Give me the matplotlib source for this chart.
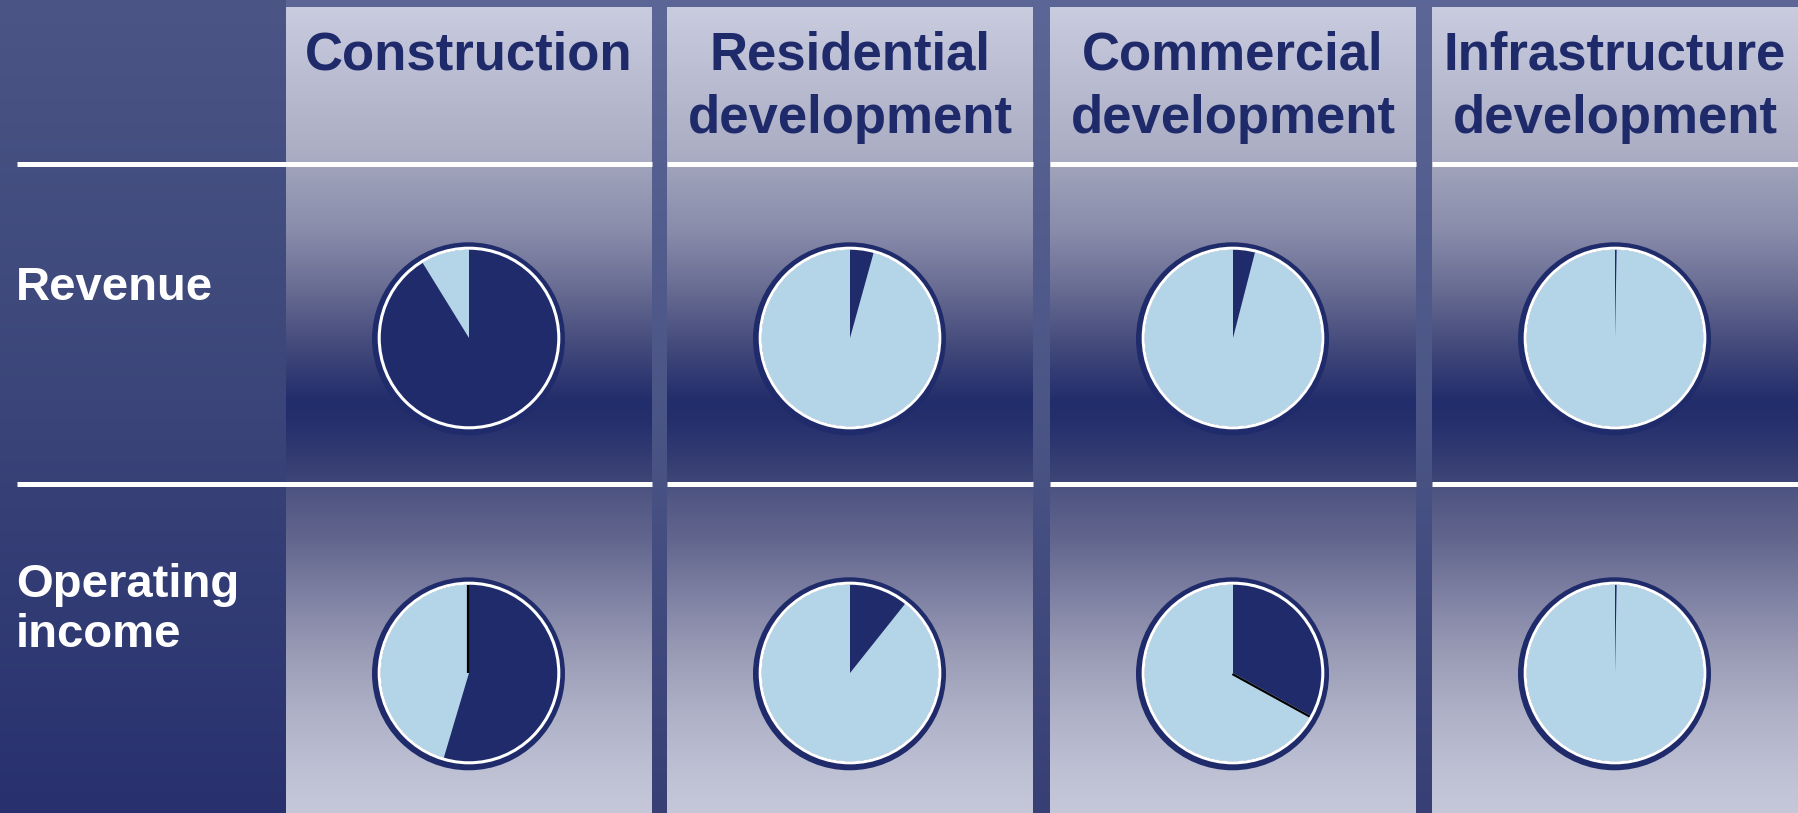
import numpy as np
import matplotlib
matplotlib.use('Agg')
import matplotlib.pyplot as plt
from matplotlib.colors import to_rgb
from matplotlib.patches import Circle

# canvas size in pixels (1 data unit = 1 px)
W, H = 1798, 813

segments = ["Construction", "Residential\ndevelopment",
            "Commercial\ndevelopment", "Infrastructure\ndevelopment"]
row_labels = ["Revenue", "Operating\nincome"]

# share of each segment (%)
revenue_share = [91.2, 4.3, 4.0, 0.3]
op_income_share = [54.6, 10.7, 33.0, 0.3]

DARK = '#1f2b6a'
LIGHT = '#b4d4e7'
TEXT_NAVY = '#1f2a6b'

# layout (pixels from top-left)
col_left = [286, 667, 1050, 1432]
col_width = 366
panel_top = 8
row_lines = [164, 484]
pie_y = [338, 673]
pie_r = 88.5


def vgrad(stops, y0, y1):
    ys = np.arange(y0, y1) + 0.5
    pos = [s[0] for s in stops]
    cols = np.array([to_rgb(s[1]) for s in stops])
    img = np.stack([np.interp(ys, pos, cols[:, k]) for k in range(3)], axis=-1)
    return img[:, None, :]


def put_grad(ax, stops, x0, x1, y0, y1):
    ax.imshow(vgrad(stops, y0, y1), extent=(x0, x1, H - y1, H - y0),
              aspect='auto', interpolation='bilinear', zorder=0)


bg_stops = [(0, '#5c6797'), (400, '#4c5686'), (813, '#373f75')]
left_stops = [(0, '#4b5686'), (400, '#3b4579'), (813, '#28316e')]
panel_stops = [(8, '#c9cbdf'), (164, '#a9abc2'), (166, '#a0a3bb'),
               (229, '#8a8dab'), (287, '#6a6e94'), (344, '#454b7c'),
               (401, '#222d6b'), (420, '#242f6c'), (459, '#343c72'),
               (482, '#3e4577'), (487, '#4d5381'), (539, '#62668e'),
               (596, '#7e81a2'), (654, '#9a9cb6'), (711, '#aeb0c7'),
               (768, '#bdc0d3'), (813, '#c6c8da')]

fig = plt.figure(figsize=(W / 100, H / 100), dpi=100)
ax = fig.add_axes([0, 0, 1, 1])

# backgrounds
put_grad(ax, bg_stops, 0, W, 0, H)
put_grad(ax, left_stops, 0, col_left[0], 0, H)
for x0 in col_left:
    put_grad(ax, panel_stops, x0, x0 + col_width, panel_top, H)

# white row dividers (broken at the gaps between columns)
for yl in row_lines:
    spans = [(17, col_left[0] + col_width)] + [(x0, x0 + col_width) for x0 in col_left[1:]]
    for a, b in spans:
        ax.plot([a, min(b, W)], [H - yl, H - yl], color='white', lw=3.6,
                solid_capstyle='butt', zorder=2)

# column headers
for i, name in enumerate(segments):
    cx = col_left[i] + col_width / 2
    for j, line in enumerate(name.split('\n')):
        ax.text(cx, H - (70 + 63 * j), line, ha='center', va='baseline',
                fontsize=38, fontweight='bold', color=TEXT_NAVY,
                family='Liberation Sans', zorder=3)

# row labels
label_base = [[300], [597, 647]]
for i, name in enumerate(row_labels):
    for j, line in enumerate(name.split('\n')):
        ax.text(16, H - label_base[i][j], line, ha='left', va='baseline',
                fontsize=34, fontweight='bold', color='white',
                family='Liberation Sans', zorder=3)

# pies; some dark slices have a thin black shadow on one edge
shares = [revenue_share, op_income_share]
shadow_edge = [[None, None, None, None], ['start', None, 'end', None]]
for r, row in enumerate(shares):
    for i, val in enumerate(row):
        cx = col_left[i] + col_width / 2
        cy = H - pie_y[r]
        ax.add_patch(Circle((cx - 0.5, cy - 0.8), 96.5, fc=DARK, ec='none', zorder=4))
        wedges, _ = ax.pie([val, 100 - val], colors=[DARK, LIGHT], startangle=90,
                           counterclock=False, center=(cx, cy), radius=pie_r,
                           wedgeprops=dict(linewidth=0))
        for w in wedges:
            w.set_zorder(5)
        edge = shadow_edge[r][i]
        if edge:
            if edge == 'start':
                ang = np.deg2rad(90)
                nrm = ang + np.pi / 2
            else:
                ang = np.deg2rad(90 - 3.6 * val)
                nrm = ang - np.pi / 2
            ox, oy = 1.2 * np.cos(nrm), 1.2 * np.sin(nrm)
            ax.plot([cx + ox, cx + ox + pie_r * np.cos(ang)],
                    [cy + oy, cy + oy + pie_r * np.sin(ang)],
                    color='black', lw=1.6, solid_capstyle='butt', zorder=5.5)
        ax.add_patch(Circle((cx, cy), 89.8, fill=False, ec='white', lw=2.2, zorder=6))

ax.set_xlim(0, W)
ax.set_ylim(0, H)
ax.set_aspect('auto')
ax.axis('off')

fig.savefig('out.png', dpi=100)
